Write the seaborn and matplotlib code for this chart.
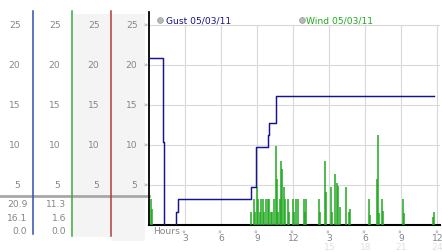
import matplotlib
matplotlib.use("Agg")
import matplotlib.pyplot as plt
import matplotlib.transforms as mtransforms
import seaborn as sns
import pandas as pd

# ---------------- data ----------------
gust_hours = [0.0, 1.12, 1.2, 2.2, 2.35, 8.45, 8.9, 9.85, 10.0, 10.55, 23.75]
gust_values = [20.9, 10.4, 0.0, 1.6, 3.2, 4.8, 9.7, 11.2, 12.8, 16.1, 16.1]

wind_hours = [0.12, 0.2, 8.45, 8.7, 8.8, 8.95, 9.05, 9.2, 9.3, 9.45, 9.55, 9.7, 9.85,
              10.0, 10.1, 10.25, 10.35, 10.55, 10.65, 10.75, 10.85, 10.95, 11.05,
              11.2, 11.3, 11.55, 11.65, 11.95, 12.05, 12.25, 12.35, 12.85, 12.95,
              13.05, 14.1, 14.2, 14.6, 14.7, 15.15, 15.25, 15.5, 15.6, 15.7, 15.85,
              16.4, 16.6, 16.7, 18.3, 18.4, 18.95, 19.05, 19.15, 19.4, 19.5, 21.15,
              21.25, 23.65, 23.75]
wind_values = [3.2, 2.0, 1.6, 3.2, 1.6, 4.7, 3.2, 1.6, 3.2, 3.2, 1.6, 3.2, 3.2,
               3.2, 1.6, 1.6, 3.2, 9.9, 5.7, 1.6, 3.2, 8.0, 7.0,
               4.7, 3.2, 3.2, 1.6, 3.2, 1.6, 3.2, 3.2, 3.2, 1.6,
               3.2, 3.2, 1.6, 8.0, 4.1, 4.7, 1.6, 6.4, 5.2, 4.9, 2.2,
               4.7, 1.6, 2.0, 3.2, 1.2, 5.7, 11.3, 1.5, 3.2, 1.7, 3.2,
               1.5, 1.0, 1.6]

y_ticks = [5, 10, 15, 20, 25]
hour_ticks = [3, 6, 9, 12, 15, 18, 21, 24]
hour_labels_12h = ["3", "6", "9", "12", "3", "6", "9", "12"]
hour_ticks_24h = [15, 18, 21, 24]
hour_labels_24h = ["15", "18", "21", "24"]

gust_stats = ["20.9", "16.1", "0.0"]
wind_stats = ["11.3", "1.6", "0.0"]
legend_labels = ["Gust 05/03/11", "Wind 05/03/11"]

# ---------------- styling ----------------
GUST = "#14148c"
WIND = "#1fa81f"
GRID = "#d9d9d9"
TXT = "#858585"
FS = 6.6

W, H = 442, 253
fig = plt.figure(figsize=(W / 100, H / 100), dpi=100)
fig.patch.set_facecolor("white")

# background overlay in pixel coordinates
bg = fig.add_axes([0, 0, 1, 1], zorder=0)
bg.set_xlim(0, W)
bg.set_ylim(H, 0)
bg.axis("off")

# main plot axes
x0, x1 = 149.3, 440
ytop, ybot = 13, 226
ax = fig.add_axes([x0 / W, (H - ybot) / H, (x1 - x0) / W, (ybot - ytop) / H], zorder=2)
ax.set_facecolor("none")
ax.set_xlim(0, 24.22)
ax.set_ylim(0, 26.6)

# gridlines
for yv in y_ticks:
    ax.axhline(yv, color=GRID, lw=0.8, zorder=1)
ax.vlines(hour_ticks, 0, max(y_ticks), color=GRID, lw=0.8, zorder=1)

# wind spikes
ax.vlines(wind_hours, 0, wind_values, color=WIND, lw=1.1, zorder=3)

# gust line
gdf = pd.DataFrame({"hour": gust_hours, "gust": gust_values})
sns.lineplot(data=gdf, x="hour", y="gust", ax=ax, color=GUST, lw=1.05,
             drawstyle="steps-post", estimator=None, sort=False, zorder=4,
             legend=False)

for s in ["top", "right"]:
    ax.spines[s].set_visible(False)
ax.spines["left"].set_color("black")
ax.spines["left"].set_linewidth(1.3)
ax.spines["bottom"].set_color("black")
ax.spines["bottom"].set_linewidth(1.5)
ax.set_xticks([])
ax.set_yticks([])
ax.set_xlabel("")
ax.set_ylabel("")

# ---------------- left panel ----------------
bg.add_patch(plt.Rectangle((73, 15), 38, 223, color="#f4f4f4", lw=0, zorder=0))
bg.add_patch(plt.Rectangle((112, 15), 33, 227, color="#f4f4f4", lw=0, zorder=0))
bg.plot([33.3, 33.3], [12, 235], color="#2f4fa8", lw=1.1)
bg.plot([72.3, 72.3], [12, 237], color="#3aa83a", lw=1.1)
bg.plot([111.3, 111.3], [12, 237], color="#b03a3a", lw=1.1)
bg.plot([0, 149], [196.7, 196.7], color="#a8a8a8", lw=2.0, zorder=1)

tr_y = mtransforms.blended_transform_factory(bg.transData, ax.transData)
for col_right in [20.5, 60.5, 99.5, 137.5]:
    for yv in y_ticks:
        bg.text(col_right, yv, str(yv), transform=tr_y, ha="right", va="center",
                fontsize=FS, color=TXT)
for yv in y_ticks:
    bg.text(145.7, yv, "»", transform=tr_y, ha="center", va="center",
            fontsize=5, color="#8c8c8c")

for i, (g, w) in enumerate(zip(gust_stats, wind_stats)):
    yy = [204.3, 218.3, 231.7][i]
    bg.text(27.3, yy, g, ha="right", va="center", fontsize=FS, color=TXT)
    bg.text(66.3, yy, w, ha="right", va="center", fontsize=FS, color=TXT)

# ---------------- legend ----------------
for (cx, tx, lab, col) in [(160, 165.5, legend_labels[0], GUST),
                           (301.5, 306.5, legend_labels[1], WIND)]:
    bg.plot([cx], [20.7], marker="o", ms=4.2, mfc="#b8b8b8", mec="#999999", mew=0.5)
    bg.text(tx, 20.7, lab, ha="left", va="center", fontsize=FS, color=col)

# ---------------- x labels ----------------
tr_x = mtransforms.blended_transform_factory(ax.transData, bg.transData)
bg.text(153, 231.7, "Hours", ha="left", va="center", fontsize=FS, color=TXT)
for h, lab in zip(hour_ticks, hour_labels_12h):
    bg.text(h, 230.8, "»", transform=tr_x, ha="center", va="center",
            fontsize=5, color="#8c8c8c", rotation=90)
    bg.text(h, 239.0, lab, transform=tr_x, ha="center", va="center",
            fontsize=FS, color=TXT)
for h, lab in zip(hour_ticks_24h, hour_labels_24h):
    bg.text(h, 247.3, lab, transform=tr_x, ha="center", va="center",
            fontsize=FS, color="#e0e0e0")

fig.savefig("out.png", dpi=100)
